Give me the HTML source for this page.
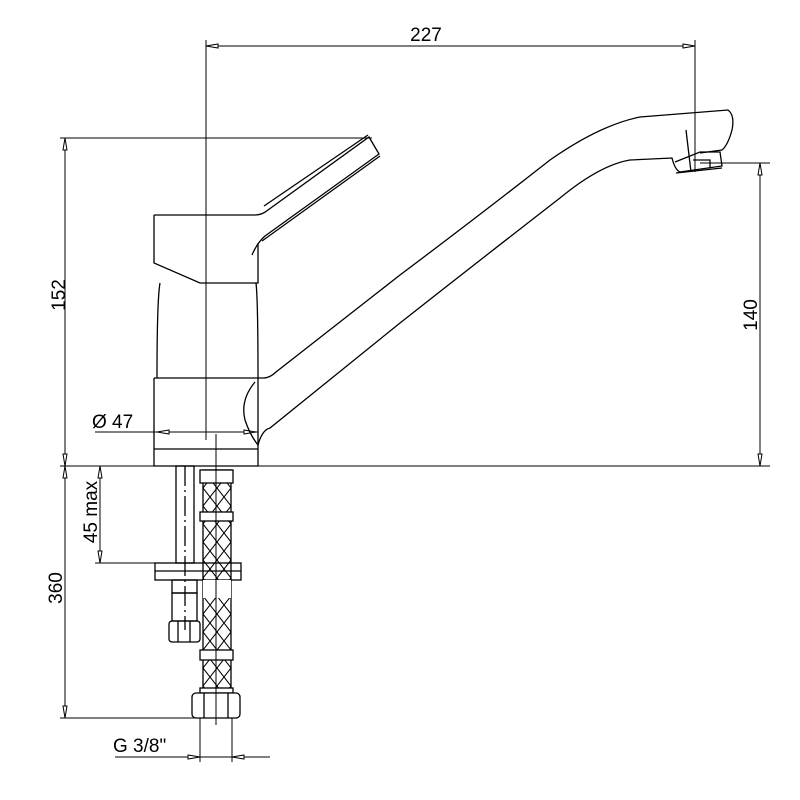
<!DOCTYPE html>
<html><head><style>html,body{margin:0;padding:0;background:#fff}svg{display:block}</style></head><body>
<svg width="800" height="800" viewBox="0 0 800 800" xmlns="http://www.w3.org/2000/svg" fill="none" stroke="#000" stroke-width="1.3" font-family="Liberation Sans, sans-serif">
<defs>
<pattern id="mesh" x="203" y="470" width="14" height="18" patternUnits="userSpaceOnUse">
<path d="M0 0L14 18M14 0L0 18" stroke="#000" stroke-width="1"/>
</pattern>
</defs>
<g stroke-width="1">
<line x1="206" y1="40" x2="206" y2="440"/>
<line x1="695" y1="40" x2="695" y2="172"/>
<line x1="206" y1="46" x2="695" y2="46"/>
<line x1="60" y1="138" x2="372" y2="138"/>
<line x1="65" y1="138" x2="65" y2="718"/>
<line x1="60" y1="466" x2="770" y2="466"/>
<line x1="700" y1="163" x2="770" y2="163"/>
<line x1="760" y1="163" x2="760" y2="466"/>
<line x1="95" y1="432" x2="258" y2="432"/>
<line x1="100" y1="466" x2="100" y2="563"/>
<line x1="95" y1="563" x2="160" y2="563"/>
<line x1="60" y1="718" x2="200" y2="718"/>
<line x1="115" y1="757" x2="270" y2="757"/>
<line x1="200" y1="718" x2="200" y2="762"/>
<line x1="232" y1="718" x2="232" y2="762"/>
<line x1="216" y1="434" x2="216" y2="466"/>
</g>
<g fill="#fff" stroke-width="1">
<path d="M206 46l12 -2v4z"/><path d="M695 46l-12 -2v4z"/>
<path d="M65 138l-2 12h4z"/><path d="M65 466l-2 -12h4z"/><path d="M65 466l-2 12h4z"/><path d="M65 718l-2 -12h4z"/>
<path d="M760 163l-2 12h4z"/><path d="M760 466l-2 -12h4z"/>
<path d="M157 432l12 -2v4z"/><path d="M256 432l-12 -2v4z"/>
<path d="M100 466l-2 12h4z"/><path d="M100 563l-2 -12h4z"/>
<path d="M200 757l-12 -2v4z"/><path d="M232 757l12 -2v4z"/>
</g>
<path d="M154 215H255Q262 215 268 210L369 137L379 154L265 236Q257 243 252 255"/>
<path d="M264 206L368 135"/><path d="M262 241L380 156"/>
<path d="M154 215V263L200 283H258V243"/>
<path d="M160 283Q157 300 157 378M256 283Q258 300 258 378"/>
<path d="M154 378H263Q270 378 276 372L400 275Q480 215 550 160Q600 125 640 117L728 110Q735 115 732 130Q728 145 722 150L700 153"/>
<path d="M154 378V466H258V378"/><path d="M154 449H258"/>
<path d="M255 382Q240 400 245 420Q250 435 258 445Q262 430 270 428L400 323Q480 260 560 198Q600 165 630 160L672 158Q675 170 680 172L722 166L720 152L700 152L675 162"/>
<path d="M676 173L722 168M693 160H710V168"/>
<line x1="686" y1="130" x2="691" y2="172"/>
<rect x="176" y="466" width="18" height="97"/>
<line x1="185" y1="466" x2="185" y2="630" stroke-dasharray="20 4 2 4"/>
<rect x="155" y="563" width="86" height="17"/><line x1="155" y1="571" x2="241" y2="571"/>
<rect x="172" y="580" width="25" height="13"/>
<rect x="172" y="593" width="25" height="28"/>
<rect x="169" y="621" width="31" height="21" rx="3"/>
<line x1="178" y1="621" x2="178" y2="642"/><line x1="190" y1="621" x2="190" y2="642"/>
<rect x="203" y="470" width="28" height="230" fill="url(#mesh)"/>
<rect x="200" y="470" width="33" height="13" fill="#fff"/>
<rect x="200" y="512" width="33" height="9" fill="#fff"/>
<rect x="203" y="580" width="28" height="18" fill="#fff" stroke="none"/>
<rect x="200" y="650" width="33" height="10" fill="#fff"/>
<rect x="200" y="688" width="33" height="5" fill="#fff"/>
<rect x="192" y="693" width="48" height="25" rx="4" fill="#fff"/>
<line x1="204" y1="693" x2="204" y2="718"/><line x1="228" y1="693" x2="228" y2="718"/>
<line x1="216" y1="466" x2="216" y2="725" stroke-width="1"/>
<g fill="#000" stroke="none" font-size="19">
<text x="426" y="41" text-anchor="middle">227</text>
<text transform="translate(65,295) rotate(-90)" text-anchor="middle">152</text>
<text transform="translate(757,315) rotate(-90)" text-anchor="middle">140</text>
<text x="92" y="428">Ø 47</text>
<text transform="translate(97,512) rotate(-90)" text-anchor="middle">45 max</text>
<text transform="translate(62,588) rotate(-90)" text-anchor="middle">360</text>
<text x="113" y="752">G 3/8"</text>
</g>
</svg>
</body></html>
